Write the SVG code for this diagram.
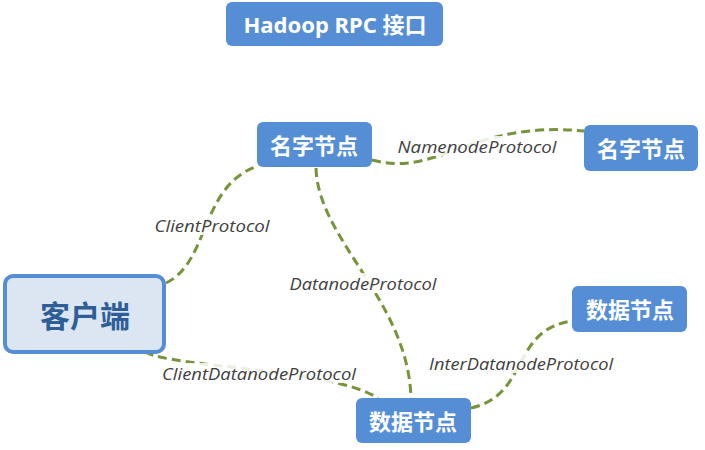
<svg xmlns="http://www.w3.org/2000/svg" width="705" height="450" viewBox="0 0 705 450">
<style>
.box{fill:#558ed5;}
.t{font-family:"Noto Sans","Noto Sans CJK SC",sans-serif;font-weight:bold;fill:#ffffff;text-anchor:middle;dominant-baseline:central;}
.c{fill:none;stroke:#77933c;stroke-width:3;stroke-dasharray:9 5;}
.lb{fill:#ffffff;opacity:0.85;}
.l{font-family:"Open Sans","Noto Sans",sans-serif;font-style:italic;font-size:17px;fill:#404040;text-anchor:middle;dominant-baseline:central;}
</style>
<rect width="705" height="450" fill="#ffffff"/>
<g id="connectors">
<path class="c" d="M166,283 C210,262 200,185 258,166"/>
<path class="c" d="M316,168 C318,240 408,300 411,398"/>
<path class="c" d="M372,160 C440,178 470,120 584,131"/>
<path class="c" d="M145,352 C175,368 330,368 378,398"/>
<path class="c" d="M471,408 C530,395 510,330 572,321"/>
<rect class="lb" x="153" y="215" width="118" height="20"/>
<text class="l" x="212" y="225" textLength="115" lengthAdjust="spacingAndGlyphs">ClientProtocol</text>
<rect class="lb" x="396" y="136" width="162" height="20"/>
<text class="l" x="477" y="146" textLength="159" lengthAdjust="spacingAndGlyphs">NamenodeProtocol</text>
<rect class="lb" x="288" y="273" width="151" height="20"/>
<text class="l" x="363" y="283" textLength="147" lengthAdjust="spacingAndGlyphs">DatanodeProtocol</text>
<rect class="lb" x="160" y="363" width="198" height="20"/>
<text class="l" x="259" y="373" textLength="194" lengthAdjust="spacingAndGlyphs">ClientDatanodeProtocol</text>
<rect class="lb" x="427" y="353" width="188" height="20"/>
<text class="l" x="521" y="363" textLength="184" lengthAdjust="spacingAndGlyphs">InterDatanodeProtocol</text>
</g>
<g id="title">
<rect class="box" x="226" y="2" width="217" height="44" rx="6"/>
<text class="t" x="335" y="24" font-size="22">Hadoop RPC 接口</text>
</g>
<g id="namenode1">
<rect class="box" x="257" y="122" width="115" height="45" rx="6"/>
<text class="t" x="314" y="145" font-size="22">名字节点</text>
</g>
<g id="namenode2">
<rect class="box" x="584" y="125" width="114" height="46" rx="6"/>
<text class="t" x="641" y="148" font-size="22">名字节点</text>
</g>
<g id="client">
<rect x="5" y="276" width="159" height="76" rx="8" fill="#dce6f2" stroke="#558ed5" stroke-width="4"/>
<text class="t" x="85" y="315" font-size="30" style="fill:#2f5e97">客户端</text>
</g>
<g id="datanode1">
<rect class="box" x="356" y="398" width="115" height="45" rx="6"/>
<text class="t" x="413" y="421" font-size="22">数据节点</text>
</g>
<g id="datanode2">
<rect class="box" x="572" y="286" width="115" height="46" rx="6"/>
<text class="t" x="630" y="309" font-size="22">数据节点</text>
</g>
</svg>
